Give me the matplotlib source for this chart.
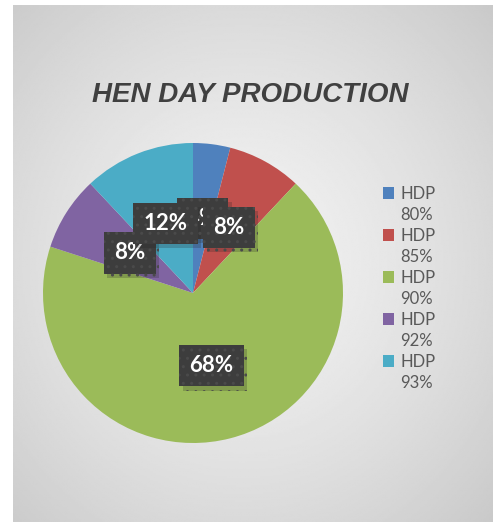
import numpy as np
import matplotlib
matplotlib.use("Agg")
import matplotlib.pyplot as plt
import matplotlib.patheffects as pe
from matplotlib.patches import Patch

# chart data
categories = ["HDP 80%", "HDP 85%", "HDP 90%", "HDP 92%", "HDP 93%"]
shares = [4, 8, 68, 8, 12]
colors = ["#4f81bd", "#c0504d", "#9bbb59", "#8064a2", "#4bacc6"]

W, H = 493, 522
fig = plt.figure(figsize=(W / 100, H / 100), dpi=100)

# gray radial gradient behind the chart area
bg = fig.add_axes([13 / W, 0, (W - 13) / W, (H - 5) / H])
yy, xx = np.mgrid[0:1:300j, 0:1:300j]
d = np.sqrt(((xx - 0.48) / 0.75) ** 2 + ((yy - 0.5) / 0.75) ** 2)
shade = 0.95 - 0.17 * np.clip(d, 0, 1) ** 1.4
bg.imshow(shade, cmap="gray", vmin=0, vmax=1, aspect="auto",
          extent=[0, 1, 0, 1], interpolation="bilinear")
bg.axis("off")

fig.text(250 / W, 1 - 95 / H, "HEN DAY PRODUCTION", ha="center", va="center",
         fontsize=20, fontweight="bold", fontstyle="italic",
         family="Liberation Sans", color="#404040")

# pie: centre (193, 293) px, radius 150 px
cx, cy, r = 193, 293, 150
ax = fig.add_axes([(cx - r) / W, (H - cy - r) / H, 2 * r / W, 2 * r / H])
wedges, texts, autotexts = ax.pie(
    shares, colors=colors, startangle=90, counterclock=False,
    autopct="%1.0f%%", pctdistance=0.5,
    wedgeprops=dict(linewidth=0),
    textprops=dict(color="white", fontsize=16, fontweight="bold", family="Lato"))
ax.set_xlim(-1, 1)
ax.set_ylim(-1, 1)
ax.set_aspect("equal")
ax.axis("off")

for t in autotexts:
    t.set_bbox(dict(boxstyle="square,pad=0.46", facecolor="#3d3d3d",
                    edgecolor="#4a4a4a", linewidth=0, hatch=".."))
    t.get_bbox_patch().set_path_effects(
        [pe.SimplePatchShadow(offset=(2.5, -3), shadow_rgbFace="#222222", alpha=0.22),
         pe.Normal()])

# legend: colored square on the "HDP" line, value on the line below
handles, labels = [], []
for name, c in zip(categories, colors):
    word, val = name.split(" ")
    handles.append(Patch(facecolor=c, edgecolor="none"))
    labels.append(word)
    handles.append(Patch(facecolor="none", edgecolor="none"))
    labels.append(val)

leg = fig.legend(handles, labels, loc="upper left",
                 bbox_to_anchor=(376 / W, 1 - 179 / H), frameon=False,
                 handlelength=0.7, handleheight=0.7, handletextpad=0.35,
                 labelspacing=0.3, borderaxespad=0,
                 prop=dict(family="Lato", size=12))
for t in leg.get_texts():
    t.set_color("#595959")

fig.savefig("out.png", dpi=100)
